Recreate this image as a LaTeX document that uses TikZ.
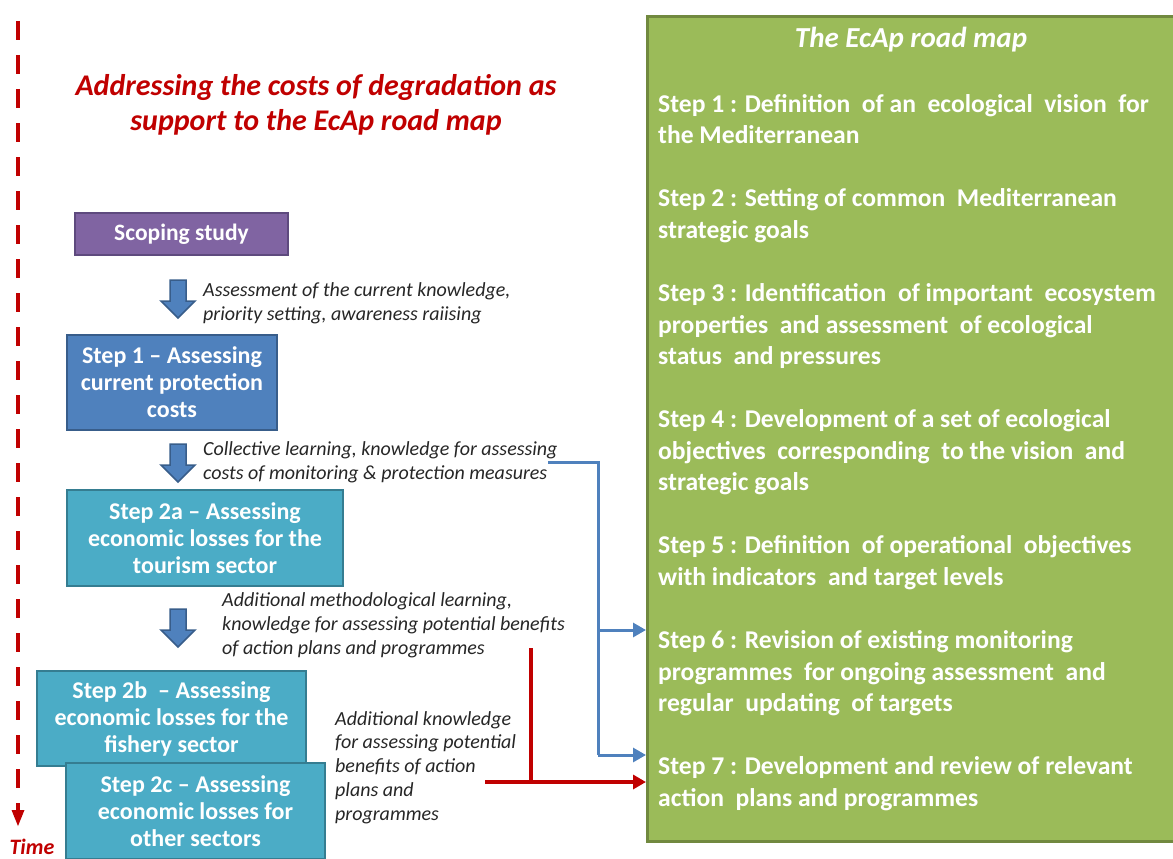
\documentclass[tikz,border=0pt]{standalone}
\usepackage{fontspec}
\setmainfont{Carlito}
\usetikzlibrary{arrows.meta}
\definecolor{ecred}{HTML}{C00000}
\definecolor{ecpurple}{HTML}{8064A2}
\definecolor{ecpurpleD}{HTML}{5E4A7E}
\definecolor{ecblue}{HTML}{4F81BD}
\definecolor{ecblueD}{HTML}{385D8A}
\definecolor{ecteal}{HTML}{4BACC6}
\definecolor{ectealD}{HTML}{357D91}
\definecolor{ecgreen}{HTML}{9BBB59}
\definecolor{ecgreenD}{HTML}{71893F}
\definecolor{ectext}{HTML}{262626}
\tikzset{
  box/.style={draw, line width=2.5pt, text=white, align=center, inner sep=0pt,
    font=\fontsize{24}{27}\selectfont\bfseries},
  ann/.style={anchor=north west, align=left, inner sep=0pt, text=ectext,
    font=\fontsize{20}{24}\selectfont\itshape},
  blueconn/.style={draw=ecblue, line width=3pt},
  redconn/.style={draw=ecred, line width=3.5pt},
  tip/.style={-{Triangle[length=13pt,width=14pt]}},
  blockarr/.pic={
    \path[fill=ecblue, draw=ecblueD, line width=1.5pt, line join=miter]
      (-8,0) -- (8,0) -- (8,21) -- (17,21) -- (0,38) -- (-17,21) -- (-8,21) -- cycle;
  }
}
\begin{document}
\begin{tikzpicture}[x=1pt,y=-1pt]
\useasboundingbox (0,0) rectangle (1173,859);
\clip (0,0) rectangle (1173,859);

% time axis
\draw[ecred, line width=4pt, dash pattern=on 19pt off 15pt] (18,21) -- (18,812);
\fill[ecred] (11.5,810) -- (24.5,810) -- (18,826) -- cycle;
\node[text=ecred, font=\fontsize{22}{24}\selectfont\bfseries\itshape] (time) at (32,847) {Time};

% title
\node[text=ecred, align=center, font=\fontsize{30}{35}\selectfont\bfseries\itshape] (title) at (316,105)
  {Addressing the costs of degradation as\\support to the EcAp road map};

% left boxes
\node[box, fill=ecpurple, draw=ecpurpleD, minimum width=213pt, minimum height=42pt,
  font=\fontsize{23.5}{27}\selectfont\bfseries] (scope) at (181.5,234) {Scoping study};
\node[box, fill=ecblue, draw=ecblueD, minimum width=210pt, minimum height=95pt] (s1) at (172,382.5)
  {Step 1 -- Assessing\\current protection\\costs};
\node[box, fill=ecteal, draw=ectealD, minimum width=276pt, minimum height=96pt] (s2a) at (205,538)
  {Step 2a -- Assessing\\economic losses for the\\tourism sector};
\node[box, fill=ecteal, draw=ectealD, minimum width=269pt, minimum height=95pt] (s2b) at (171.5,718.5)
  {Step 2b \ -- Assessing\\economic losses for the\\fishery sector};
\node[box, fill=ecteal, draw=ectealD, minimum width=259pt, minimum height=96pt] (s2c) at (195.5,811)
  {Step 2c -- Assessing\\economic losses for\\other sectors};

% block arrows
\pic at (178,280) {blockarr};
\pic at (178,444) {blockarr};
\pic at (178,609) {blockarr};

% annotations
\node[ann] (a1) at (203,282) {Assessment of the current knowledge,\\priority setting, awareness raiising};
\node[ann] (a2) at (203,441) {Collective learning, knowledge for assessing\\costs of monitoring \& protection measures};
\node[ann] (a3) at (222,592) {Additional methodological learning,\\knowledge for assessing potential benefits\\of action plans and programmes};
\node[ann, font=\fontsize{20}{23.75}\selectfont\itshape] (a4) at (335,711) {Additional knowledge\\for assessing potential\\benefits of action\\plans and\\programmes};

% road map box
\node[draw=ecgreenD, fill=ecgreen, line width=3pt, anchor=north west, minimum width=545pt, minimum height=825pt, inner sep=0pt] (roadmap) at (646,15) {};
\node[text=white, font=\fontsize{29}{32}\selectfont\bfseries\itshape] (rmtitle) at (911,40) {The EcAp road map};
\node[anchor=north west, align=left, inner sep=0pt, text=white, font=\fontsize{25.6}{31.55}\selectfont\bfseries] (steps) at (658,94)
  {Step 1 : Definition \ of an \ ecological \ vision \ for\\
   the Mediterranean\\[31.55pt]
   Step 2 : Setting of common \ Mediterranean\\
   strategic goals\\[31.55pt]
   Step 3 : Identification \ of important \ ecosystem\\
   properties \ and assessment \ of ecological\\
   status \ and pressures\\[31.55pt]
   Step 4 : Development of a set of ecological\\
   objectives \ corresponding \ to the vision \ and\\
   strategic goals\\[31.55pt]
   Step 5 : Definition \ of operational \ objectives\\
   with indicators \ and target levels\\[31.55pt]
   Step 6 : Revision of existing monitoring\\
   programmes \ for ongoing assessment \ and\\
   regular \ updating \ of targets\\[31.55pt]
   Step 7 : Development and review of relevant\\
   action \ plans and programmes};

% connectors
\coordinate (b0) at (548,462);
\coordinate (bj) at (598,462);
\coordinate (bj6) at (598,630);
\coordinate (bj7) at (598,755);
\draw[blueconn] (b0) -- (bj) -- (bj7);
\draw[blueconn, tip] (bj6) -- (roadmap.west |- bj6);
\draw[blueconn, tip] (bj7) -- (roadmap.west |- bj7);

\coordinate (r0) at (531,648);
\coordinate (rj) at (531,782);
\coordinate (rs) at (485,782);
\draw[redconn] (r0) -- (rj);
\draw[redconn, tip] (rs) -- (roadmap.west |- rs);
\end{tikzpicture}
\end{document}
